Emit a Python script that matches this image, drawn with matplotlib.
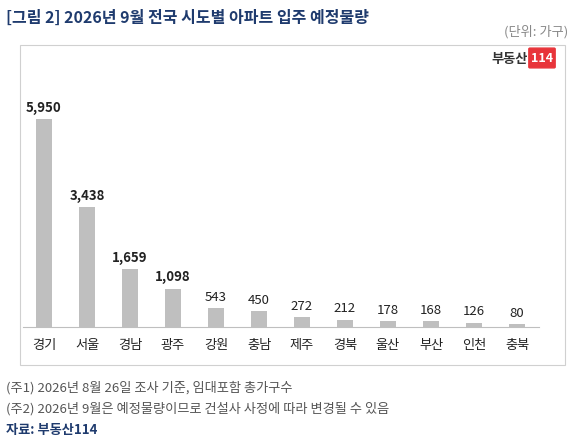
import matplotlib
matplotlib.use("Agg")
import matplotlib.pyplot as plt
from matplotlib.patches import Rectangle, FancyBboxPatch

plt.rcParams['font.family'] = ['Noto Sans CJK KR', 'DejaVu Sans']

regions = ['경기', '서울', '경남', '광주', '강원', '충남', '제주', '경북', '울산', '부산', '인천', '충북']
values = [5950, 3438, 1659, 1098, 543, 450, 272, 212, 178, 168, 126, 80]
bold_n = 4

W, H = 580, 439
fig = plt.figure(figsize=(W/100, H/100), dpi=100)
fig.patch.set_facecolor('white')

def fx(x): return x / W
def fy(y): return 1 - y / H

# frame box
fig.patches.append(Rectangle((fx(20), fy(366)), fx(545), 320/H, transform=fig.transFigure,
                             fill=False, edgecolor='#d0d0d0', lw=0.8))

ax = fig.add_axes([fx(22.5), fy(328), fx(516), 268/H])
ax.bar(range(len(values)), values, width=0.37, color='#bfbfbf')
ax.set_xlim(-0.5, 11.5)
ax.set_ylim(0, 5950 * 268 / 208)
for s in ['top', 'right', 'left']:
    ax.spines[s].set_visible(False)
ax.spines['bottom'].set_color('#bfbfbf')
ax.set_yticks([])
ax.set_xticks(range(len(regions)))
ax.set_xticklabels(regions, fontsize=9.5, color='#222222')
ax.tick_params(axis='x', length=0, pad=8)
for i, v in enumerate(values):
    ax.text(i, v + 150, f'{v:,}', ha='center', va='bottom', fontsize=9.5,
            fontweight='bold' if i < bold_n else 'normal', color='#222222')

fig.text(fx(6), fy(18), '[그림 2] 2026년 9월 전국 시도별 아파트 입주 예정물량',
         fontsize=11.5, fontweight='bold', color='#1f3b6e', va='center')
fig.text(fx(568), fy(32), '(단위: 가구)', fontsize=9.5, color='#888888', ha='right', va='center')

# logo
fig.text(fx(528), fy(59), '부동산', fontsize=9.5, fontweight='bold', color='#333333', ha='right', va='center')
fig.patches.append(FancyBboxPatch((fx(530), fy(68)), fx(24), 18/H, boxstyle='round,pad=0.002',
                                  transform=fig.transFigure, color='#e8343a'))
fig.text(fx(542), fy(59), '114', fontsize=9, fontweight='bold', color='white', ha='center', va='center')

fig.text(fx(6), fy(388), '(주1) 2026년 8월 26일 조사 기준, 임대포함 총가구수', fontsize=9.5, color='#555555', va='center')
fig.text(fx(6), fy(409), '(주2) 2026년 9월은 예정물량이므로 건설사 사정에 따라 변경될 수 있음', fontsize=9.5, color='#555555', va='center')
fig.text(fx(6), fy(430), '자료: 부동산114', fontsize=9.5, fontweight='bold', color='#1f3b6e', va='center')

fig.savefig('out.png', dpi=100)
